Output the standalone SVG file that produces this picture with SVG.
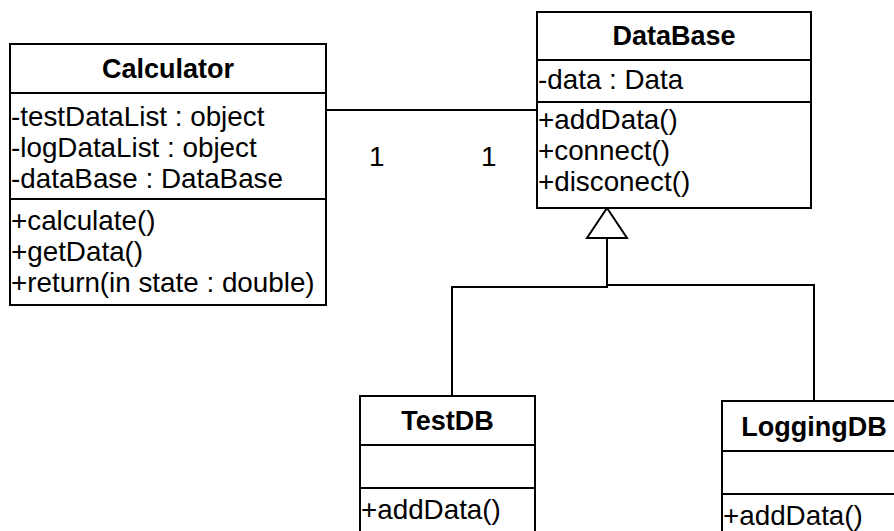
<svg xmlns="http://www.w3.org/2000/svg" width="894" height="531" viewBox="0 0 894 531">
<style>
.box{fill:#fff;stroke:#000;stroke-width:2}
.sep{stroke:#000;stroke-width:2}
.t{font-family:"Liberation Sans",Arial,sans-serif;font-size:27.8px;fill:#000}
.b{font-weight:bold;text-anchor:middle;font-size:27px}
.con{fill:none;stroke:#000;stroke-width:2}
</style>
<rect width="894" height="531" fill="#fff"/>
<g id="connectors">
<line class="con" x1="326" y1="110" x2="537" y2="110"/>
<path class="con" d="M452,396 V287 H607 V238"/>
<path class="con" d="M814,401 V285 H607"/>
<polygon class="con" points="607,208 587,238 627,238" style="fill:#fff"/>
<text class="t" x="369" y="166">1</text>
<text class="t" x="481" y="166">1</text>
</g>
<g id="Calculator">
<rect class="box" x="10" y="44" width="316" height="261"/>
<line class="sep" x1="10" y1="93" x2="326" y2="93"/>
<line class="sep" x1="10" y1="199" x2="326" y2="199"/>
<text class="t b" x="168" y="78">Calculator</text>
<text class="t" x="11" y="126">-testDataList : object</text>
<text class="t" x="11" y="157">-logDataList : object</text>
<text class="t" x="11" y="188">-dataBase : DataBase</text>
<text class="t" x="11" y="230">+calculate()</text>
<text class="t" x="11" y="261">+getData()</text>
<text class="t" x="11" y="292">+return(in state : double)</text>
</g>
<g id="DataBase">
<rect class="box" x="537" y="12" width="274" height="196"/>
<line class="sep" x1="537" y1="60" x2="811" y2="60"/>
<line class="sep" x1="537" y1="102" x2="811" y2="102"/>
<text class="t b" x="674" y="45">DataBase</text>
<text class="t" x="538" y="89">-data : Data</text>
<text class="t" x="538" y="129">+addData()</text>
<text class="t" x="538" y="160">+connect()</text>
<text class="t" x="538" y="191">+disconect()</text>
</g>
<g id="TestDB">
<rect class="box" x="360" y="396" width="175" height="150"/>
<line class="sep" x1="360" y1="445" x2="535" y2="445"/>
<line class="sep" x1="360" y1="488" x2="535" y2="488"/>
<text class="t b" x="447.5" y="430">TestDB</text>
<text class="t" x="361" y="519">+addData()</text>
</g>
<g id="LoggingDB">
<rect class="box" x="722" y="401" width="184" height="150"/>
<line class="sep" x1="722" y1="451" x2="906" y2="451"/>
<line class="sep" x1="722" y1="494" x2="906" y2="494"/>
<text class="t b" x="814" y="436">LoggingDB</text>
<text class="t" x="723" y="525">+addData()</text>
</g>
</svg>
